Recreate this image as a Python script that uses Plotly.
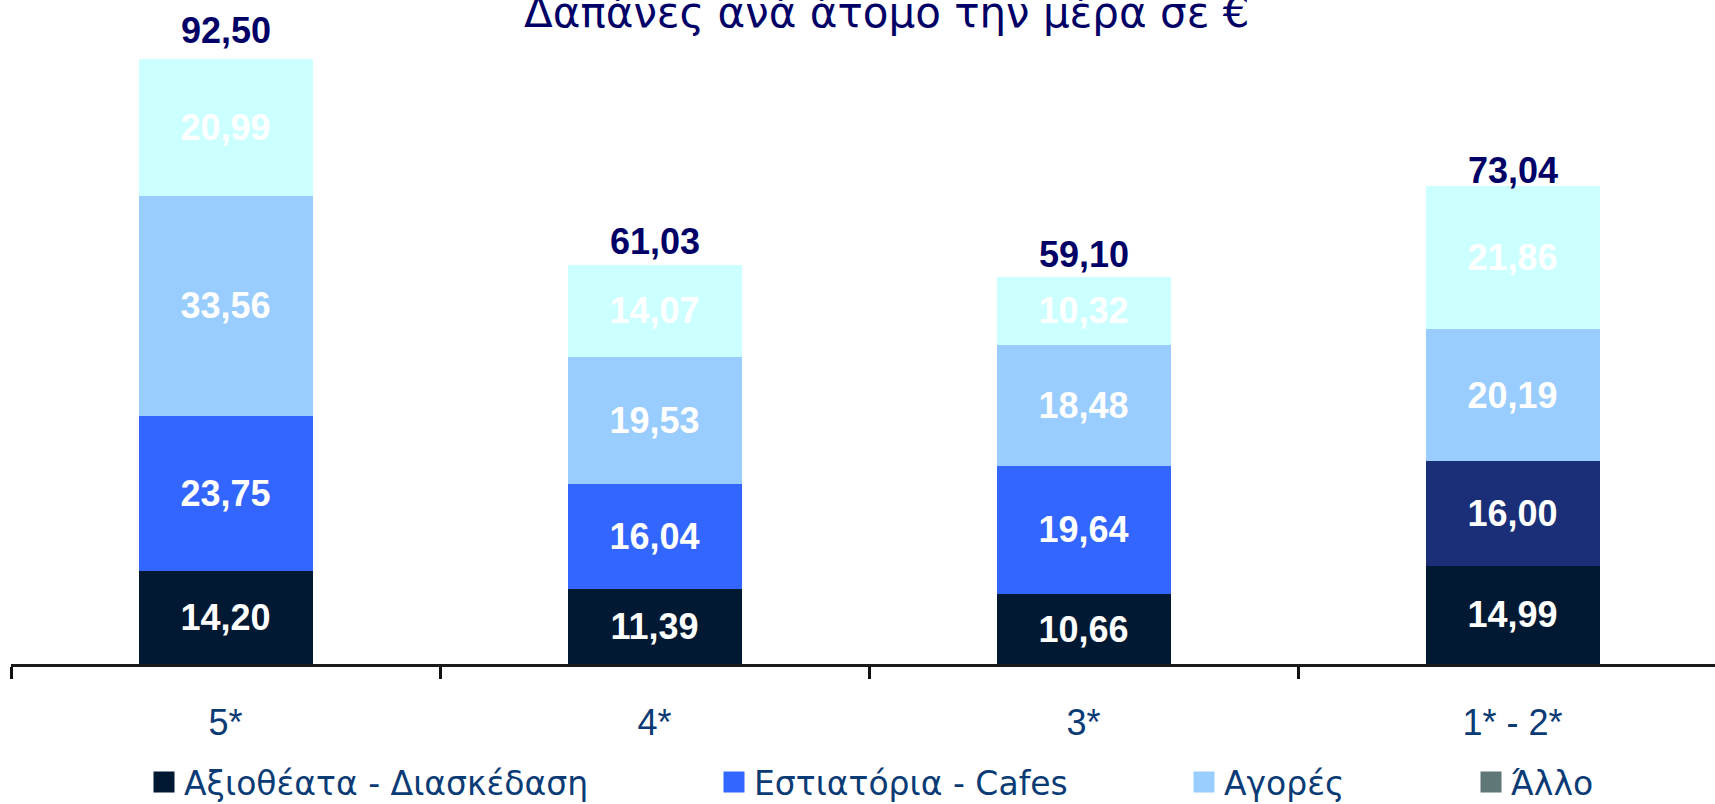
import plotly.graph_objects as go

# ---------------------------------------------------------------------------
# Data (daily spend per person, EUR)
# ---------------------------------------------------------------------------

categories = ["5*", "4*", "3*", "1* - 2*"]

sights = [14.20, 11.39, 10.66, 14.99]       # Αξιοθέατα - Διασκέδαση
restaurants = [23.75, 16.04, 19.64, 16.00]  # Εστιατόρια - Cafes
shopping = [33.56, 19.53, 18.48, 20.19]     # Αγορές
other = [20.99, 14.07, 10.32, 21.86]        # Άλλο
totals = [92.50, 61.03, 59.10, 73.04]

series_names = ["Αξιοθέατα - Διασκέδαση", "Εστιατόρια - Cafes", "Αγορές", "Άλλο"]

# ---------------------------------------------------------------------------
# Styling
# ---------------------------------------------------------------------------

W, H = 1715, 804
L, R, T, B = 11, 0, 0, 140
PX_PER_CAT = 429
PX_PER_UNIT = 6.545

DARK = "#021933"
BLUE = "#3366ff"
NAVY = "#1a2f78"
LIGHT = "#99ccff"
CYAN = "#ccffff"
GREY = "#5f7777"
TEXT_BLUE = "#0b3b75"
TITLE_BLUE = "#000066"

bar_colors = [
    DARK,
    [BLUE, BLUE, BLUE, NAVY],
    LIGHT,
    CYAN,
]
legend_colors = [DARK, BLUE, LIGHT, GREY]
legend_px = [144, 714, 1184, 1471]  # left edge of each legend box
total_lift = [28, 23, 23, 15]       # px between bar top and centre of the total label

label_font = dict(family="Liberation Sans, Arial", size=36, color="white", weight="bold")

fig = go.Figure()

for name, vals, col in zip(series_names, [sights, restaurants, shopping, other], bar_colors):
    fig.add_trace(
        go.Bar(
            x=categories,
            y=vals,
            name=name,
            marker=dict(color=col, line=dict(width=0)),
            texttemplate="%{y:.2f}",
            textposition="inside",
            insidetextanchor="middle",
            textangle=0,
            textfont=label_font,
            showlegend=False,
            hoverinfo="skip",
        )
    )

# totals above each stack
for cat, tot, lift in zip(categories, totals, total_lift):
    fig.add_annotation(
        x=cat,
        y=tot,
        text=f"{tot:.2f}".replace(".", ","),
        showarrow=False,
        yanchor="middle",
        yshift=lift,
        font=dict(family="Liberation Sans, Arial", size=36, color=TITLE_BLUE, weight="bold"),
    )

# legend entries, each in its own legend box so the spacing can follow the original
plot_w = W - L - R
plot_h = H - T - B
for i, (name, col) in enumerate(zip(series_names, legend_colors)):
    key = "legend" if i == 0 else f"legend{i + 1}"
    fig.add_trace(
        go.Scatter(
            x=[None],
            y=[None],
            mode="markers",
            name=name,
            marker=dict(symbol="square", size=16, color=col, line=dict(color=col, width=5)),
            legend=key,
            showlegend=True,
        )
    )
    fig.update_layout(
        {
            key: dict(
                x=(legend_px[i] - L) / plot_w,
                xanchor="left",
                y=-118 / plot_h,
                yanchor="middle",
                orientation="h",
                bgcolor="rgba(0,0,0,0)",
                borderwidth=0,
                font=dict(family="DejaVu Sans", size=33, color=TEXT_BLUE),
                itemclick=False,
                itemdoubleclick=False,
            )
        }
    )

fig.add_annotation(
    text="Δαπάνες ανά άτομο την μέρα σε €",
    xref="paper",
    yref="paper",
    x=(886 - L) / plot_w,
    y=1,
    xanchor="center",
    yanchor="middle",
    yshift=-12,
    showarrow=False,
    font=dict(family="DejaVu Sans", size=42, color=TITLE_BLUE),
)

fig.update_layout(
    width=W,
    height=H,
    margin=dict(l=L, r=R, t=T, b=B, pad=0, autoexpand=False),
    barmode="stack",
    bargap=1 - 174 / PX_PER_CAT,
    separators=",.",
    plot_bgcolor="white",
    paper_bgcolor="white",
    uniformtext=dict(minsize=36, mode="show"),
    xaxis=dict(
        type="category",
        categoryorder="array",
        categoryarray=categories,
        range=[-0.5, -0.5 + plot_w / PX_PER_CAT],
        automargin=False,
        tickson="boundaries",
        ticks="outside",
        ticklen=12,
        tickwidth=3,
        tickcolor="#111111",
        showline=True,
        linewidth=3,
        linecolor="#1a1a1a",
        showgrid=False,
        zeroline=False,
        tickfont=dict(family="Liberation Sans, Arial", size=36, color=TEXT_BLUE),
        ticklabelstandoff=25,
        fixedrange=True,
    ),
    yaxis=dict(
        range=[0, plot_h / PX_PER_UNIT],
        automargin=False,
        visible=False,
        showgrid=False,
        zeroline=False,
        fixedrange=True,
    ),
)

# drop the browser's default 8px body margin so the figure sits at the page corner
fig.write_html(
    "out.html",
    config={"displayModeBar": False},
    post_script="document.body.style.margin = '0';",
)
